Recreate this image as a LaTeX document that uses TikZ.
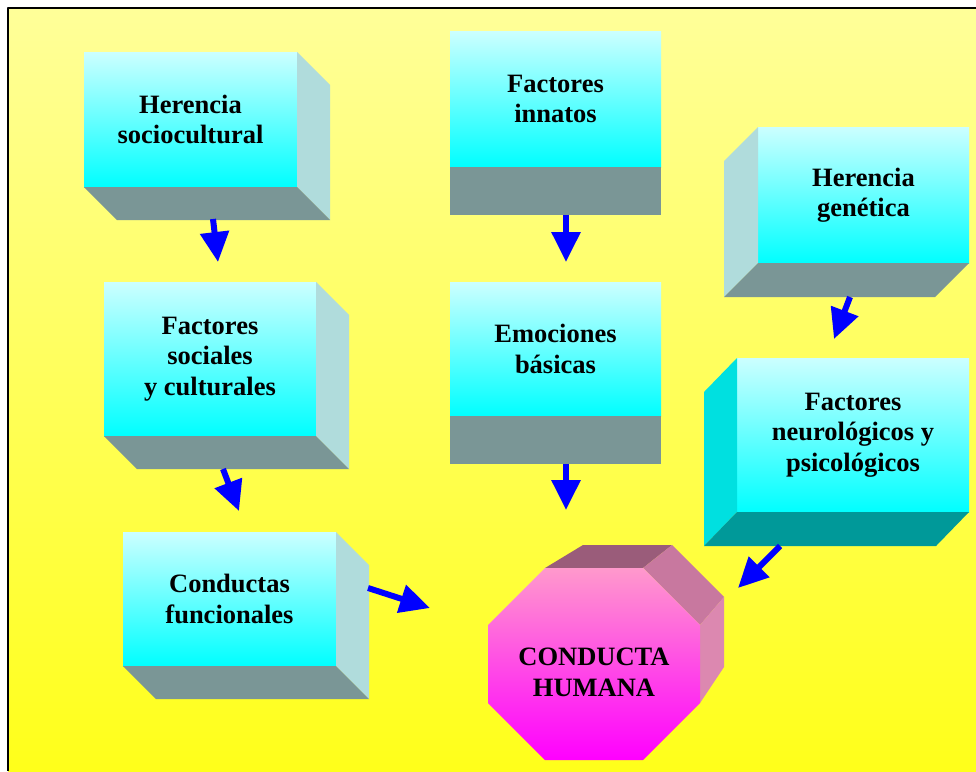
\documentclass[tikz,border=0pt]{standalone}
\usepackage{fontspec}
\setmainfont{Liberation Serif}
\usetikzlibrary{arrows.meta,calc}
\definecolor{fondoarriba}{HTML}{FFFF99}
\definecolor{fondoabajo}{HTML}{FFFF1A}
\definecolor{cajaclaro}{HTML}{CCFFFF}
\definecolor{cajafuerte}{HTML}{00FFFF}
\definecolor{lado}{HTML}{B0DCDC}
\definecolor{base}{HTML}{7A9696}
\definecolor{ladoosc}{HTML}{00E0E0}
\definecolor{baseosc}{HTML}{009999}
\definecolor{rosa}{HTML}{FF99CC}
\definecolor{fucsia}{HTML}{FF00FF}
\definecolor{octtapa}{HTML}{9A5C7A}
\definecolor{octdiag}{HTML}{C8789F}
\definecolor{octlado}{HTML}{DC88B0}
\begin{document}
\begin{tikzpicture}[x=1pt, y=-1pt, line join=round,
		cara/.style={inner sep=0pt, outer sep=0pt, top color=cajaclaro, bottom color=cajafuerte, align=center, font=\bfseries\fontsize{26.5pt}{30.5pt}\selectfont},
		flecha/.style={blue, line width=6pt, -{Triangle[length=30pt, width=28pt]}}]
	\useasboundingbox (0,0) rectangle (976,771);
	\fill[white] (0,0) rectangle (976,771);
	\shade[top color=fondoarriba, bottom color=fondoabajo] (8,8) rectangle (976,771);
	\draw[line width=1.5pt] (8,771) -- (8,8) -- (976,8);
	
	\node[cara, minimum width=213pt, minimum height=135pt] (hs) at (190.5,119.5) {Herencia\\sociocultural};
	\node[cara, minimum width=211pt, minimum height=136pt] (fi) at (555.5,99) {Factores\\innatos};
	\node[cara, minimum width=211pt, minimum height=134pt] (eb) at (555.5,349) {Emociones\\básicas};
	\node[cara, minimum width=212pt, minimum height=154pt] (fs) at (210,359) {Factores\\sociales\\y culturales};
	\node[cara, minimum width=213pt, minimum height=134pt] (cf) at (229.5,599) {Conductas\\funcionales};
	\node[cara, minimum width=211pt, minimum height=136pt] (hg) at (863.5,195) {Herencia\\genética};
	\node[cara, minimum width=232pt, minimum height=154pt] (fn) at (853,435) {Factores\\neurológicos y\\psicológicos};
	
	% caras de profundidad
	\foreach \n in {hs,fs,cf} {
		\fill[lado] (\n.north east) -- ++(33,33) -- ($(\n.south east)+(33,33)$) -- (\n.south east) -- cycle;
		\fill[base] (\n.south west) -- ++(33,33) -- ($(\n.south east)+(33,33)$) -- (\n.south east) -- cycle;
	}
	\foreach \n in {fi,eb}
		\fill[base] (\n.south west) -- ++(0,48) -- ($(\n.south east)+(0,48)$) -- (\n.south east) -- cycle;
	\fill[lado] (hg.north west) -- ++(-34,34) -- ($(hg.south west)+(-34,34)$) -- (hg.south west) -- cycle;
	\fill[base] (hg.south west) -- ++(-34,34) -- ($(hg.south east)+(-34,34)$) -- (hg.south east) -- cycle;
	\fill[ladoosc] (fn.north west) -- ++(-33,34) -- ($(fn.south west)+(-33,34)$) -- (fn.south west) -- cycle;
	\fill[baseosc] (fn.south west) -- ++(-33,34) -- ($(fn.south east)+(-33,34)$) -- (fn.south east) -- cycle;
	
	% octogono
	\fill[octtapa] (545,568) -- (583,545) -- (672,545) -- (643,568) -- cycle;
	\fill[octdiag] (643,568) -- (672,545) -- (724,597) -- (700,625) -- cycle;
	\fill[octlado] (700,625) -- (724,597) -- (724,667) -- (700,703) -- cycle;
	\shade[top color=rosa, bottom color=fucsia] (545,568) -- (643,568) -- (700,625) -- (700,703) -- (643,760) -- (545,760) -- (488,703) -- (488,625) -- cycle;
	\node[align=center, font=\bfseries\fontsize{26.5pt}{31pt}\selectfont] (ch) at (594,672) {CONDUCTA\\HUMANA};
	
	\draw[flecha] ($(hs.south)+(22.5,32)$) -- ($(fs.north)+(8,-20)$);
	\draw[flecha] ($(fi.south)+(10.5,48)$) -- ($(eb.north)+(10.5,-20)$);
	\draw[flecha] ($(eb.south)+(10.5,48)$) -- ($(ch)+(-28,-162)$);
	\draw[flecha] ($(fs.south)+(13,33)$) -- ($(cf.north)+(9.5,-21)$);
	\draw[flecha] ($(cf.east)+(32,-11)$) -- ($(ch)+(-164,-64)$);
	\draw[flecha] ($(hg.south)+(-13.5,34)$) -- ($(fn.north)+(-19,-19)$);
	\draw[flecha] ($(fn.south)+(-73,34)$) -- ($(ch)+(144,-84)$);
\end{tikzpicture}
\end{document}
